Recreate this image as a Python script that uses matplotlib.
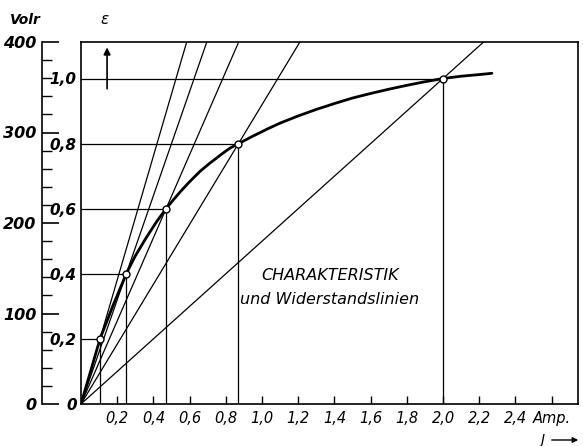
import matplotlib
matplotlib.use("Agg")
import matplotlib.pyplot as plt
from matplotlib.ticker import MultipleLocator

# ===== data =====
# characteristic curve: current J (Amp) vs. relative voltage eps
curve_J = [0, 0.05, 0.105, 0.175, 0.25, 0.30, 0.365, 0.42, 0.47, 0.51, 0.55,
           0.59, 0.62, 0.66, 0.71, 0.75, 0.78, 0.82, 0.87, 0.95, 1.03, 1.1,
           1.2, 1.3, 1.4, 1.5, 1.6, 1.7, 1.8, 1.9, 2.0, 2.1, 2.2, 2.27]
curve_eps = [0, 0.095, 0.2, 0.30, 0.4, 0.455, 0.515, 0.562, 0.6, 0.627, 0.653,
             0.677, 0.694, 0.716, 0.739, 0.756, 0.769, 0.785, 0.8, 0.823, 0.845,
             0.863, 0.885, 0.905, 0.923, 0.94, 0.954, 0.967, 0.979, 0.99, 1.0,
             1.007, 1.012, 1.016]

# marked operating points (eps = 0.2 ... 1.0)
pt_J = [0.105, 0.25, 0.47, 0.87, 2.0]
pt_eps = [0.2, 0.4, 0.6, 0.8, 1.0]

x_ticks = [0.2, 0.4, 0.6, 0.8, 1.0, 1.2, 1.4, 1.6, 1.8, 2.0, 2.2, 2.4, 2.6]
x_labels = ["0,2", "0,4", "0,6", "0,8", "1,0", "1,2", "1,4", "1,6", "1,8",
            "2,0", "2,2", "2,4", "Amp."]
eps_ticks = [0, 0.2, 0.4, 0.6, 0.8, 1.0]
eps_labels = ["0", "0,2", "0,4", "0,6", "0,8", "1,0"]
volt_ticks = [0, 100, 200, 300, 400]

W, H = 583, 446
fig = plt.figure(figsize=(W / 100, H / 100), dpi=100)
fig.patch.set_facecolor("white")

# main box (eps axis) - pixel bounds of the frame
L, R, T, B = 81, 578, 42, 404
ax = fig.add_axes([L / W, (H - B) / H, (R - L) / W, (B - T) / H])
ax.set_xlim(0, (R - L) / 181.0)
ax.set_ylim(0, (B - T) / 325.5)
for s in ax.spines.values():
    s.set_linewidth(1.2)

lw_thin = 0.9
# resistance lines through the origin and each point (clipped by the frame)
for j, e in zip(pt_J, pt_eps):
    ax.plot([0, j * 20], [0, e * 20], color="black", lw=lw_thin)
    ax.plot([0, j], [e, e], color="black", lw=lw_thin)
    ax.plot([j, j], [0, e], color="black", lw=lw_thin)

ax.plot(curve_J, curve_eps, color="black", lw=2.0, solid_capstyle="round",
        solid_joinstyle="round")
ax.plot(pt_J, pt_eps, "o", ms=5, mfc="white", mec="black", mew=1.0, zorder=5)

ax.set_xticks(x_ticks)
ax.set_xticklabels(x_labels, fontstyle="italic", fontsize=10.5)
ax.tick_params(axis="x", direction="in", length=6, width=1, pad=5)
ax.set_yticks(eps_ticks)
ax.set_yticklabels(eps_labels, fontstyle="italic", fontsize=11, fontweight="bold")
ax.tick_params(axis="y", length=0, pad=3)

ax.text(1.375, 0.395, "CHARAKTERISTIK", ha="center", va="center",
        fontstyle="italic", fontsize=11.5)
ax.text(1.375, 0.322, "und Widerstandslinien", ha="center", va="center",
        fontstyle="italic", fontsize=11.5)

# eps arrow
ax.annotate("", xy=(0.144, 1.104), xytext=(0.144, 0.96),
            arrowprops=dict(arrowstyle="-|>", color="black", lw=1.2,
                            mutation_scale=10))

# voltage scale on the far left
vx = 42
vax = fig.add_axes([vx / W, (H - B) / H, 0.001, (B - T) / H])
vax.set_ylim(0, 400)
vax.set_xticks([])
for k in ["top", "right", "bottom"]:
    vax.spines[k].set_visible(False)
vax.spines["left"].set_linewidth(1.2)
vax.set_yticks(volt_ticks)
vax.set_yticklabels([str(v) for v in volt_ticks], fontstyle="italic",
                    fontsize=11.5, fontweight="bold")
vax.yaxis.set_minor_locator(MultipleLocator(20))
vax.tick_params(axis="y", which="major", direction="in", length=12, width=1.2, pad=4)
vax.tick_params(axis="y", which="minor", direction="in", length=7, width=1.0)

fig.text(25 / W, 1 - 20 / H, "Volr", ha="center", va="center",
         fontstyle="italic", fontsize=10, fontweight="bold")
fig.text(105 / W, 1 - 20 / H, "ε", ha="center", va="center",
         fontstyle="italic", fontsize=11)
fig.text(542 / W, 1 - 440 / H, "J", ha="center", va="center",
         fontstyle="italic", fontsize=10)
fig.add_artist(matplotlib.patches.FancyArrowPatch(
    (549 / W, 1 - 440 / H), (581 / W, 1 - 440 / H), transform=fig.transFigure,
    arrowstyle="-|>", mutation_scale=8, color="black", lw=1.0))

fig.savefig("out.png", dpi=100)
